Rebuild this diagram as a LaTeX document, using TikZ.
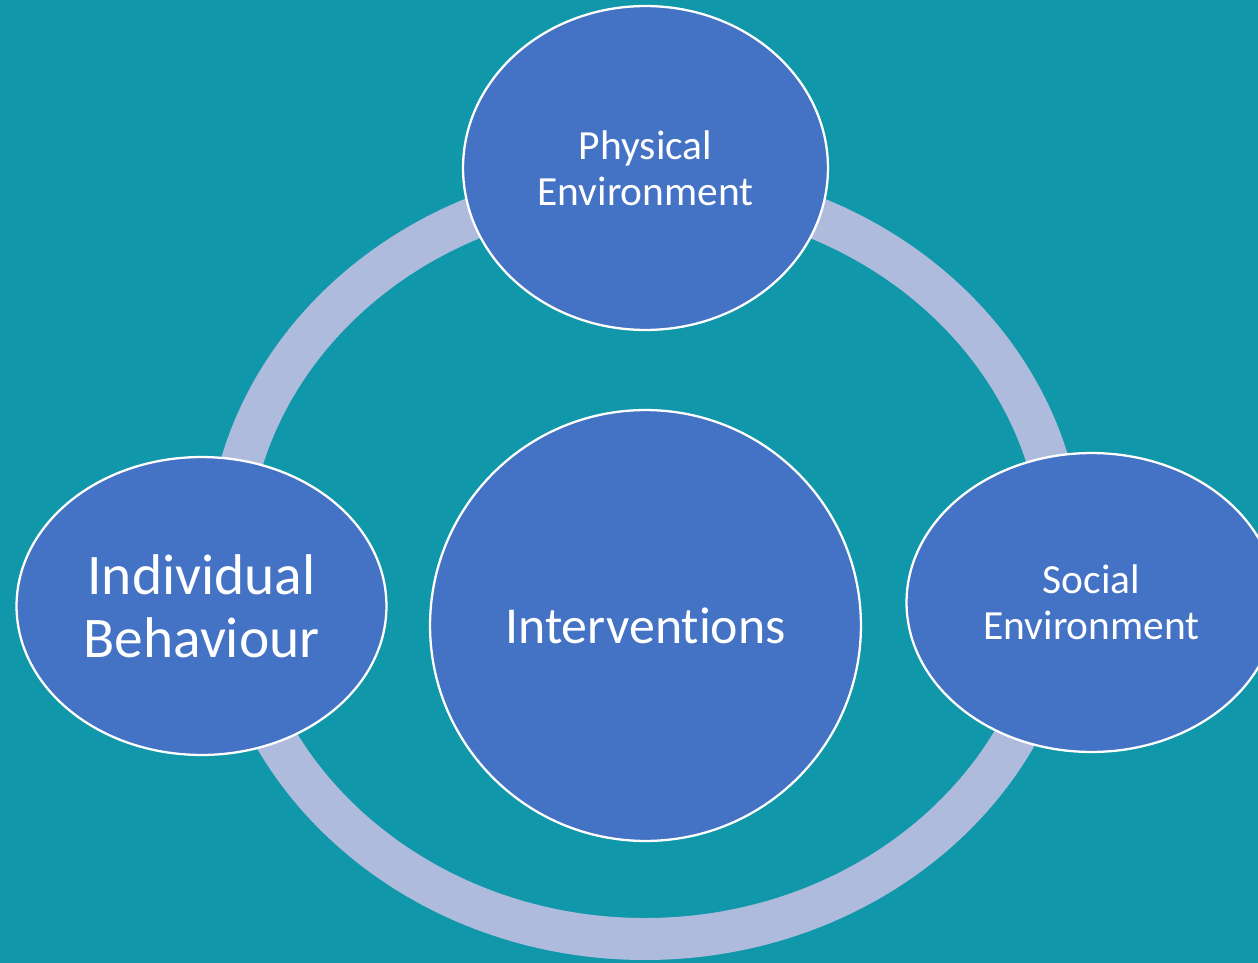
\documentclass[tikz,border=0pt]{standalone}
\usepackage{fontspec}
\setmainfont[Ligatures = NoCommon]{Carlito}
\usetikzlibrary{shapes.geometric}
\tikzset{bubble/.style = {ellipse, draw = white, line width = 1.3pt, fill = mblue, text = white, inner sep = 0, align = center}}
\definecolor{mteal}{HTML}{1097A9}
\definecolor{mblue}{HTML}{4472C4}
\definecolor{mring}{HTML}{AFBBDD}

\begin{document}
\begin{tikzpicture}[x = 0.02cm, y = -0.02cm]
          \fill [mteal] (0, 0) rectangle (1258, 963);
          \useasboundingbox (0, 0) rectangle (1258, 963);
          \draw [mring, line width = 0.84cm] (645, 562) ellipse [x radius = 418, y radius = 377];
          \node [bubble, minimum width = 8.62cm, minimum height = 8.62cm, font = \fontsize{29.5}{35}\selectfont] (interventions) at (645.5, 625.5) {Interventions};
          \node [bubble, minimum width = 7.3cm, minimum height = 6.48cm, font = \fontsize{23.6}{26}\selectfont] (physical) at (645.5, 168) {Physical\\Environment};
          \node [bubble, minimum width = 7.4cm, minimum height = 5.96cm, font = \fontsize{32.7}{35.7}\selectfont] (individual) at (201.5, 606) {Individual\\Behaviour};
          \node [bubble, minimum width = 7.4cm, minimum height = 5.98cm, font = \fontsize{23.6}{26}\selectfont] (social) at (1091.5, 602.5) {Social\\Environment};
        \end{tikzpicture}
\end{document}
